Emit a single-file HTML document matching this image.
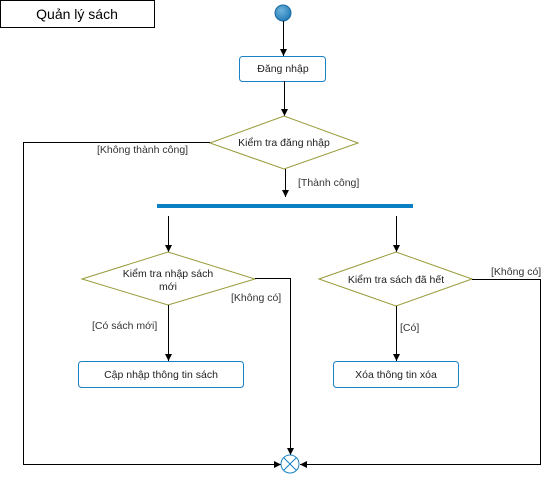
<!DOCTYPE html>
<html><head><meta charset="utf-8"><style>
html,body{margin:0;padding:0;background:#fff;}
svg{display:block;}
text{font-family:"Liberation Sans",Arial,sans-serif;font-size:10.5px;fill:#222;}
.l{fill:#333;}
</style></head><body>
<svg width="547" height="478" viewBox="0 0 547 478" xmlns="http://www.w3.org/2000/svg">
<defs>
<marker id="a" viewBox="0 0 10 10" refX="10" refY="5" markerWidth="7" markerHeight="12" markerUnits="userSpaceOnUse" orient="auto">
<path d="M0,0 L10,5 L0,10 Z" fill="#000"/></marker>
<radialGradient id="g" cx="40%" cy="35%" r="70%"><stop offset="0" stop-color="#6fb3dc"/><stop offset="1" stop-color="#1f78b4"/></radialGradient>
</defs>
<rect x="0.5" y="0.5" width="154" height="27" fill="#fff" stroke="#000"/>
<text x="77" y="19" text-anchor="middle" style="font-size:14px;fill:#000">Quản lý sách</text>

<circle cx="283" cy="13" r="8" fill="url(#g)" stroke="#1a6aa0" stroke-width="1"/>
<line x1="283.5" y1="21" x2="283.5" y2="56" stroke="#000" marker-end="url(#a)"/>
<rect x="239.5" y="56.5" width="86" height="25" rx="3" fill="#fff" stroke="#1a82c4"/>
<text x="283" y="72" text-anchor="middle">Đăng nhập</text>
<line x1="284.5" y1="81" x2="284.5" y2="116" stroke="#000" marker-end="url(#a)"/>
<polygon points="210,143 284,116 358,143 284,169" fill="#fff" stroke="#9a9a3a"/>
<text x="284" y="146" text-anchor="middle">Kiểm tra đăng nhập</text>
<line x1="285.5" y1="169" x2="285.5" y2="197" stroke="#000" marker-end="url(#a)"/>
<text class="l" x="298" y="186">[Thành công]</text>
<polyline points="210,142.5 23.5,142.5 23.5,464.5 281,464.5" fill="none" stroke="#000" marker-end="url(#a)"/>
<text class="l" x="97" y="153">[Không thành công]</text>

<rect x="157" y="204" width="256" height="4" fill="#0a7fc2"/>

<line x1="168.5" y1="216" x2="168.5" y2="252" stroke="#000" marker-end="url(#a)"/>
<polygon points="82,279 168,252 255,279 168,305" fill="#fff" stroke="#9a9a3a"/>
<text x="168" y="277" text-anchor="middle">Kiểm tra nhập sách</text>
<text x="168" y="290" text-anchor="middle">mới</text>
<polyline points="255,278.5 290.5,278.5 290.5,455" fill="none" stroke="#000" marker-end="url(#a)"/>
<text class="l" x="231" y="301">[Không có]</text>
<line x1="168.5" y1="305" x2="168.5" y2="361" stroke="#000" marker-end="url(#a)"/>
<text class="l" x="92" y="329">[Có sách mới]</text>
<rect x="78.5" y="361.5" width="165" height="26" rx="3" fill="#fff" stroke="#1a82c4"/>
<text x="161" y="378" text-anchor="middle">Cập nhập thông tin sách</text>

<line x1="396.5" y1="216" x2="396.5" y2="252" stroke="#000" marker-end="url(#a)"/>
<polygon points="319,279 396,252 472,279 396,306" fill="#fff" stroke="#9a9a3a"/>
<text x="396" y="283" text-anchor="middle">Kiểm tra sách đã hết</text>
<polyline points="472,279.5 540.5,279.5 540.5,464.5 300,464.5" fill="none" stroke="#000" marker-end="url(#a)"/>
<text class="l" x="491" y="275">[Không có]</text>
<line x1="396.5" y1="306" x2="396.5" y2="361" stroke="#000" marker-end="url(#a)"/>
<text class="l" x="400" y="331">[Có]</text>
<rect x="333.5" y="361.5" width="125" height="26" rx="3" fill="#fff" stroke="#1a82c4"/>
<text x="396" y="378" text-anchor="middle">Xóa thông tin xóa</text>

<circle cx="290" cy="464" r="9" fill="#fff" stroke="#1a82c4"/>
<line x1="283.6" y1="457.6" x2="296.4" y2="470.4" stroke="#1a82c4"/>
<line x1="296.4" y1="457.6" x2="283.6" y2="470.4" stroke="#1a82c4"/>
</svg>
</body></html>
